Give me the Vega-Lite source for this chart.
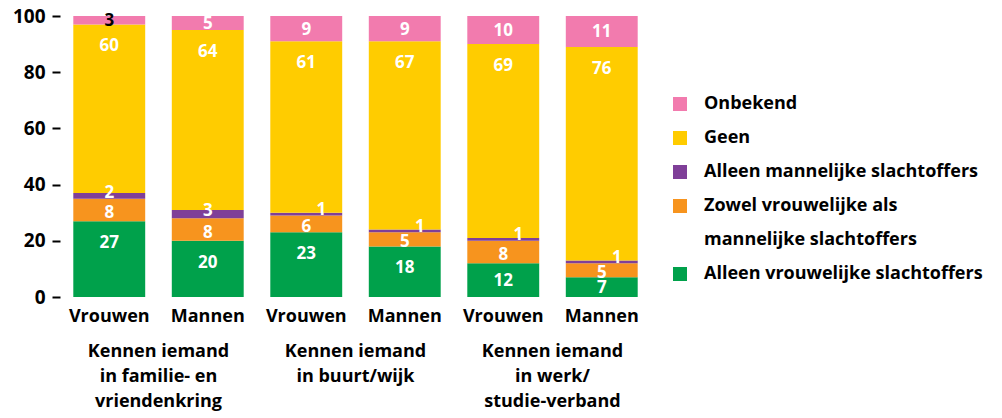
{
  "$schema": "https://vega.github.io/schema/vega-lite/v6.json",
  "padding": {"left": 12, "top": 7, "right": 0, "bottom": 0},
  "background": "white",
  "config": {
    "font": "Open Sans",
    "view": {"stroke": null},
    "legend": {
      "title": null,
      "orient": "none",
      "legendX": 611,
      "legendY": 79,
      "symbolType": "square",
      "symbolSize": 196,
      "symbolStrokeWidth": 0,
      "labelFontSize": 18,
      "labelFontWeight": "bold",
      "labelColor": "black",
      "rowPadding": 16,
      "labelOffset": 15,
      "labelLimit": 400,
      "padding": 0
    }
  },
  "data": {
    "values": [
      {"groep": "Kennen iemand\nin familie- en\nvriendenkring", "geslacht": "Vrouwen", "categorie": "Alleen vrouwelijke slachtoffers", "rang": 1, "pct": 27},
      {"groep": "Kennen iemand\nin familie- en\nvriendenkring", "geslacht": "Vrouwen", "categorie": "Zowel vrouwelijke als mannelijke slachtoffers", "rang": 2, "pct": 8},
      {"groep": "Kennen iemand\nin familie- en\nvriendenkring", "geslacht": "Vrouwen", "categorie": "Alleen mannelijke slachtoffers", "rang": 3, "pct": 2},
      {"groep": "Kennen iemand\nin familie- en\nvriendenkring", "geslacht": "Vrouwen", "categorie": "Geen", "rang": 4, "pct": 60},
      {"groep": "Kennen iemand\nin familie- en\nvriendenkring", "geslacht": "Vrouwen", "categorie": "Onbekend", "rang": 5, "pct": 3},
      {"groep": "Kennen iemand\nin familie- en\nvriendenkring", "geslacht": "Mannen", "categorie": "Alleen vrouwelijke slachtoffers", "rang": 1, "pct": 20},
      {"groep": "Kennen iemand\nin familie- en\nvriendenkring", "geslacht": "Mannen", "categorie": "Zowel vrouwelijke als mannelijke slachtoffers", "rang": 2, "pct": 8},
      {"groep": "Kennen iemand\nin familie- en\nvriendenkring", "geslacht": "Mannen", "categorie": "Alleen mannelijke slachtoffers", "rang": 3, "pct": 3},
      {"groep": "Kennen iemand\nin familie- en\nvriendenkring", "geslacht": "Mannen", "categorie": "Geen", "rang": 4, "pct": 64},
      {"groep": "Kennen iemand\nin familie- en\nvriendenkring", "geslacht": "Mannen", "categorie": "Onbekend", "rang": 5, "pct": 5},
      {"groep": "Kennen iemand\nin buurt/wijk", "geslacht": "Vrouwen", "categorie": "Alleen vrouwelijke slachtoffers", "rang": 1, "pct": 23},
      {"groep": "Kennen iemand\nin buurt/wijk", "geslacht": "Vrouwen", "categorie": "Zowel vrouwelijke als mannelijke slachtoffers", "rang": 2, "pct": 6},
      {"groep": "Kennen iemand\nin buurt/wijk", "geslacht": "Vrouwen", "categorie": "Alleen mannelijke slachtoffers", "rang": 3, "pct": 1},
      {"groep": "Kennen iemand\nin buurt/wijk", "geslacht": "Vrouwen", "categorie": "Geen", "rang": 4, "pct": 61},
      {"groep": "Kennen iemand\nin buurt/wijk", "geslacht": "Vrouwen", "categorie": "Onbekend", "rang": 5, "pct": 9},
      {"groep": "Kennen iemand\nin buurt/wijk", "geslacht": "Mannen", "categorie": "Alleen vrouwelijke slachtoffers", "rang": 1, "pct": 18},
      {"groep": "Kennen iemand\nin buurt/wijk", "geslacht": "Mannen", "categorie": "Zowel vrouwelijke als mannelijke slachtoffers", "rang": 2, "pct": 5},
      {"groep": "Kennen iemand\nin buurt/wijk", "geslacht": "Mannen", "categorie": "Alleen mannelijke slachtoffers", "rang": 3, "pct": 1},
      {"groep": "Kennen iemand\nin buurt/wijk", "geslacht": "Mannen", "categorie": "Geen", "rang": 4, "pct": 67},
      {"groep": "Kennen iemand\nin buurt/wijk", "geslacht": "Mannen", "categorie": "Onbekend", "rang": 5, "pct": 9},
      {"groep": "Kennen iemand\nin werk/\nstudie-verband", "geslacht": "Vrouwen", "categorie": "Alleen vrouwelijke slachtoffers", "rang": 1, "pct": 12},
      {"groep": "Kennen iemand\nin werk/\nstudie-verband", "geslacht": "Vrouwen", "categorie": "Zowel vrouwelijke als mannelijke slachtoffers", "rang": 2, "pct": 8},
      {"groep": "Kennen iemand\nin werk/\nstudie-verband", "geslacht": "Vrouwen", "categorie": "Alleen mannelijke slachtoffers", "rang": 3, "pct": 1},
      {"groep": "Kennen iemand\nin werk/\nstudie-verband", "geslacht": "Vrouwen", "categorie": "Geen", "rang": 4, "pct": 69},
      {"groep": "Kennen iemand\nin werk/\nstudie-verband", "geslacht": "Vrouwen", "categorie": "Onbekend", "rang": 5, "pct": 10},
      {"groep": "Kennen iemand\nin werk/\nstudie-verband", "geslacht": "Mannen", "categorie": "Alleen vrouwelijke slachtoffers", "rang": 1, "pct": 7},
      {"groep": "Kennen iemand\nin werk/\nstudie-verband", "geslacht": "Mannen", "categorie": "Zowel vrouwelijke als mannelijke slachtoffers", "rang": 2, "pct": 5},
      {"groep": "Kennen iemand\nin werk/\nstudie-verband", "geslacht": "Mannen", "categorie": "Alleen mannelijke slachtoffers", "rang": 3, "pct": 1},
      {"groep": "Kennen iemand\nin werk/\nstudie-verband", "geslacht": "Mannen", "categorie": "Geen", "rang": 4, "pct": 76},
      {"groep": "Kennen iemand\nin werk/\nstudie-verband", "geslacht": "Mannen", "categorie": "Onbekend", "rang": 5, "pct": 11}
    ]
  },
  "facet": {
    "column": {
      "field": "groep",
      "type": "nominal",
      "sort": ["Kennen iemand\nin familie- en\nvriendenkring", "Kennen iemand\nin buurt/wijk", "Kennen iemand\nin werk/\nstudie-verband"],
      "header": {
        "title": null,
        "labelOrient": "bottom",
        "labelExpr": "split(datum.value, '\\n')",
        "labelFontSize": 18,
        "labelFontWeight": "bold",
        "labelColor": "black",
        "labelLineHeight": 25,
        "labelBaseline": "top",
        "labelPadding": 18
      }
    }
  },
  "spacing": 0,
  "spec": {
    "width": 197,
    "height": 281,
    "transform": [
      {"stack": "pct", "groupby": ["groep", "geslacht"], "sort": [{"field": "rang", "order": "ascending"}], "as": ["y0", "y1"]}
    ],
    "encoding": {
      "x": {
        "field": "geslacht",
        "type": "nominal",
        "sort": ["Vrouwen", "Mannen"],
        "scale": {"paddingInner": 0.27, "paddingOuter": 0.135},
        "axis": {"title": null, "labelAngle": 0, "domain": false, "ticks": false, "labelFontSize": 18, "labelFontWeight": "bold", "labelColor": "black", "labelPadding": 10}
      }
    },
    "layer": [
      {
        "mark": {"type": "bar", "strokeWidth": 0},
        "encoding": {
          "y": {
            "field": "y0",
            "type": "quantitative",
            "scale": {"domain": [0, 100]},
            "axis": {"title": null, "values": [0, 20, 40, 60, 80, 100], "domain": false, "grid": false, "tickSize": 8, "tickWidth": 2, "tickColor": "black", "labelFontSize": 19, "labelFontWeight": "bold", "labelColor": "black", "labelPadding": 7}
          },
          "y2": {"field": "y1"},
          "color": {
            "field": "categorie",
            "type": "nominal",
            "scale": {
              "domain": ["Onbekend", "Geen", "Alleen mannelijke slachtoffers", "Zowel vrouwelijke als mannelijke slachtoffers", "mannelijke slachtoffers", "Alleen vrouwelijke slachtoffers"],
              "range": ["#F27BAE", "#FFCC00", "#7F3F98", "#F7941E", "rgba(255,255,255,0)", "#00A14B"]
            },
            "legend": {
              "labelExpr": "datum.label == 'Zowel vrouwelijke als mannelijke slachtoffers' ? 'Zowel vrouwelijke als' : datum.label"
            }
          }
        }
      },
      {
        "transform": [
          {"filter": "datum.categorie == 'Geen' || (datum.categorie == 'Alleen vrouwelijke slachtoffers' && datum.pct > 12)"}
        ],
        "mark": {"type": "text", "baseline": "middle", "dy": 22, "fontSize": 17, "fontWeight": "bold"},
        "encoding": {
          "y": {"field": "y1", "type": "quantitative", "title": null},
          "text": {"field": "pct", "type": "quantitative"},
          "color": {"value": "white"}
        }
      },
      {
        "transform": [
          {"filter": "datum.categorie == 'Onbekend' || (datum.categorie == 'Alleen vrouwelijke slachtoffers' && datum.pct <= 12)"},
          {"fold": ["y0", "y1"], "as": ["kant", "pos"]},
          {"aggregate": [{"op": "mean", "field": "pos", "as": "mid"}], "groupby": ["groep", "geslacht", "categorie", "pct"]}
        ],
        "mark": {"type": "text", "baseline": "middle", "dy": 1, "fontSize": 17, "fontWeight": "bold"},
        "encoding": {
          "y": {"field": "mid", "type": "quantitative", "title": null},
          "text": {"field": "pct", "type": "quantitative"},
          "color": {"condition": {"test": "datum.pct < 4", "value": "black"}, "value": "white"}
        }
      },
      {
        "transform": [
          {"filter": "datum.categorie == 'Zowel vrouwelijke als mannelijke slachtoffers'"},
          {"fold": ["y0", "y1"], "as": ["kant", "pos"]},
          {"aggregate": [{"op": "mean", "field": "pos", "as": "mid"}], "groupby": ["groep", "geslacht", "categorie", "pct"]}
        ],
        "mark": {"type": "text", "baseline": "middle", "dy": 3, "fontSize": 17, "fontWeight": "bold"},
        "encoding": {
          "y": {"field": "mid", "type": "quantitative", "title": null},
          "text": {"field": "pct", "type": "quantitative"},
          "color": {"value": "white"}
        }
      },
      {
        "transform": [
          {"filter": "datum.categorie == 'Alleen mannelijke slachtoffers' && datum.pct > 1"},
          {"fold": ["y0", "y1"], "as": ["kant", "pos"]},
          {"aggregate": [{"op": "mean", "field": "pos", "as": "mid"}], "groupby": ["groep", "geslacht", "categorie", "pct"]}
        ],
        "mark": {"type": "text", "baseline": "middle", "dy": -3, "fontSize": 17, "fontWeight": "bold"},
        "encoding": {
          "y": {"field": "mid", "type": "quantitative", "title": null},
          "text": {"field": "pct", "type": "quantitative"},
          "color": {"value": "white"}
        }
      },
      {
        "transform": [
          {"filter": "datum.categorie == 'Alleen mannelijke slachtoffers' && datum.pct == 1"},
          {"fold": ["y0", "y1"], "as": ["kant", "pos"]},
          {"aggregate": [{"op": "mean", "field": "pos", "as": "mid"}], "groupby": ["groep", "geslacht", "categorie", "pct"]}
        ],
        "mark": {"type": "text", "baseline": "middle", "dx": 15, "dy": -4, "fontSize": 17, "fontWeight": "bold"},
        "encoding": {
          "y": {"field": "mid", "type": "quantitative", "title": null},
          "text": {"field": "pct", "type": "quantitative"},
          "color": {"value": "white"}
        }
      }
    ]
  }
}
